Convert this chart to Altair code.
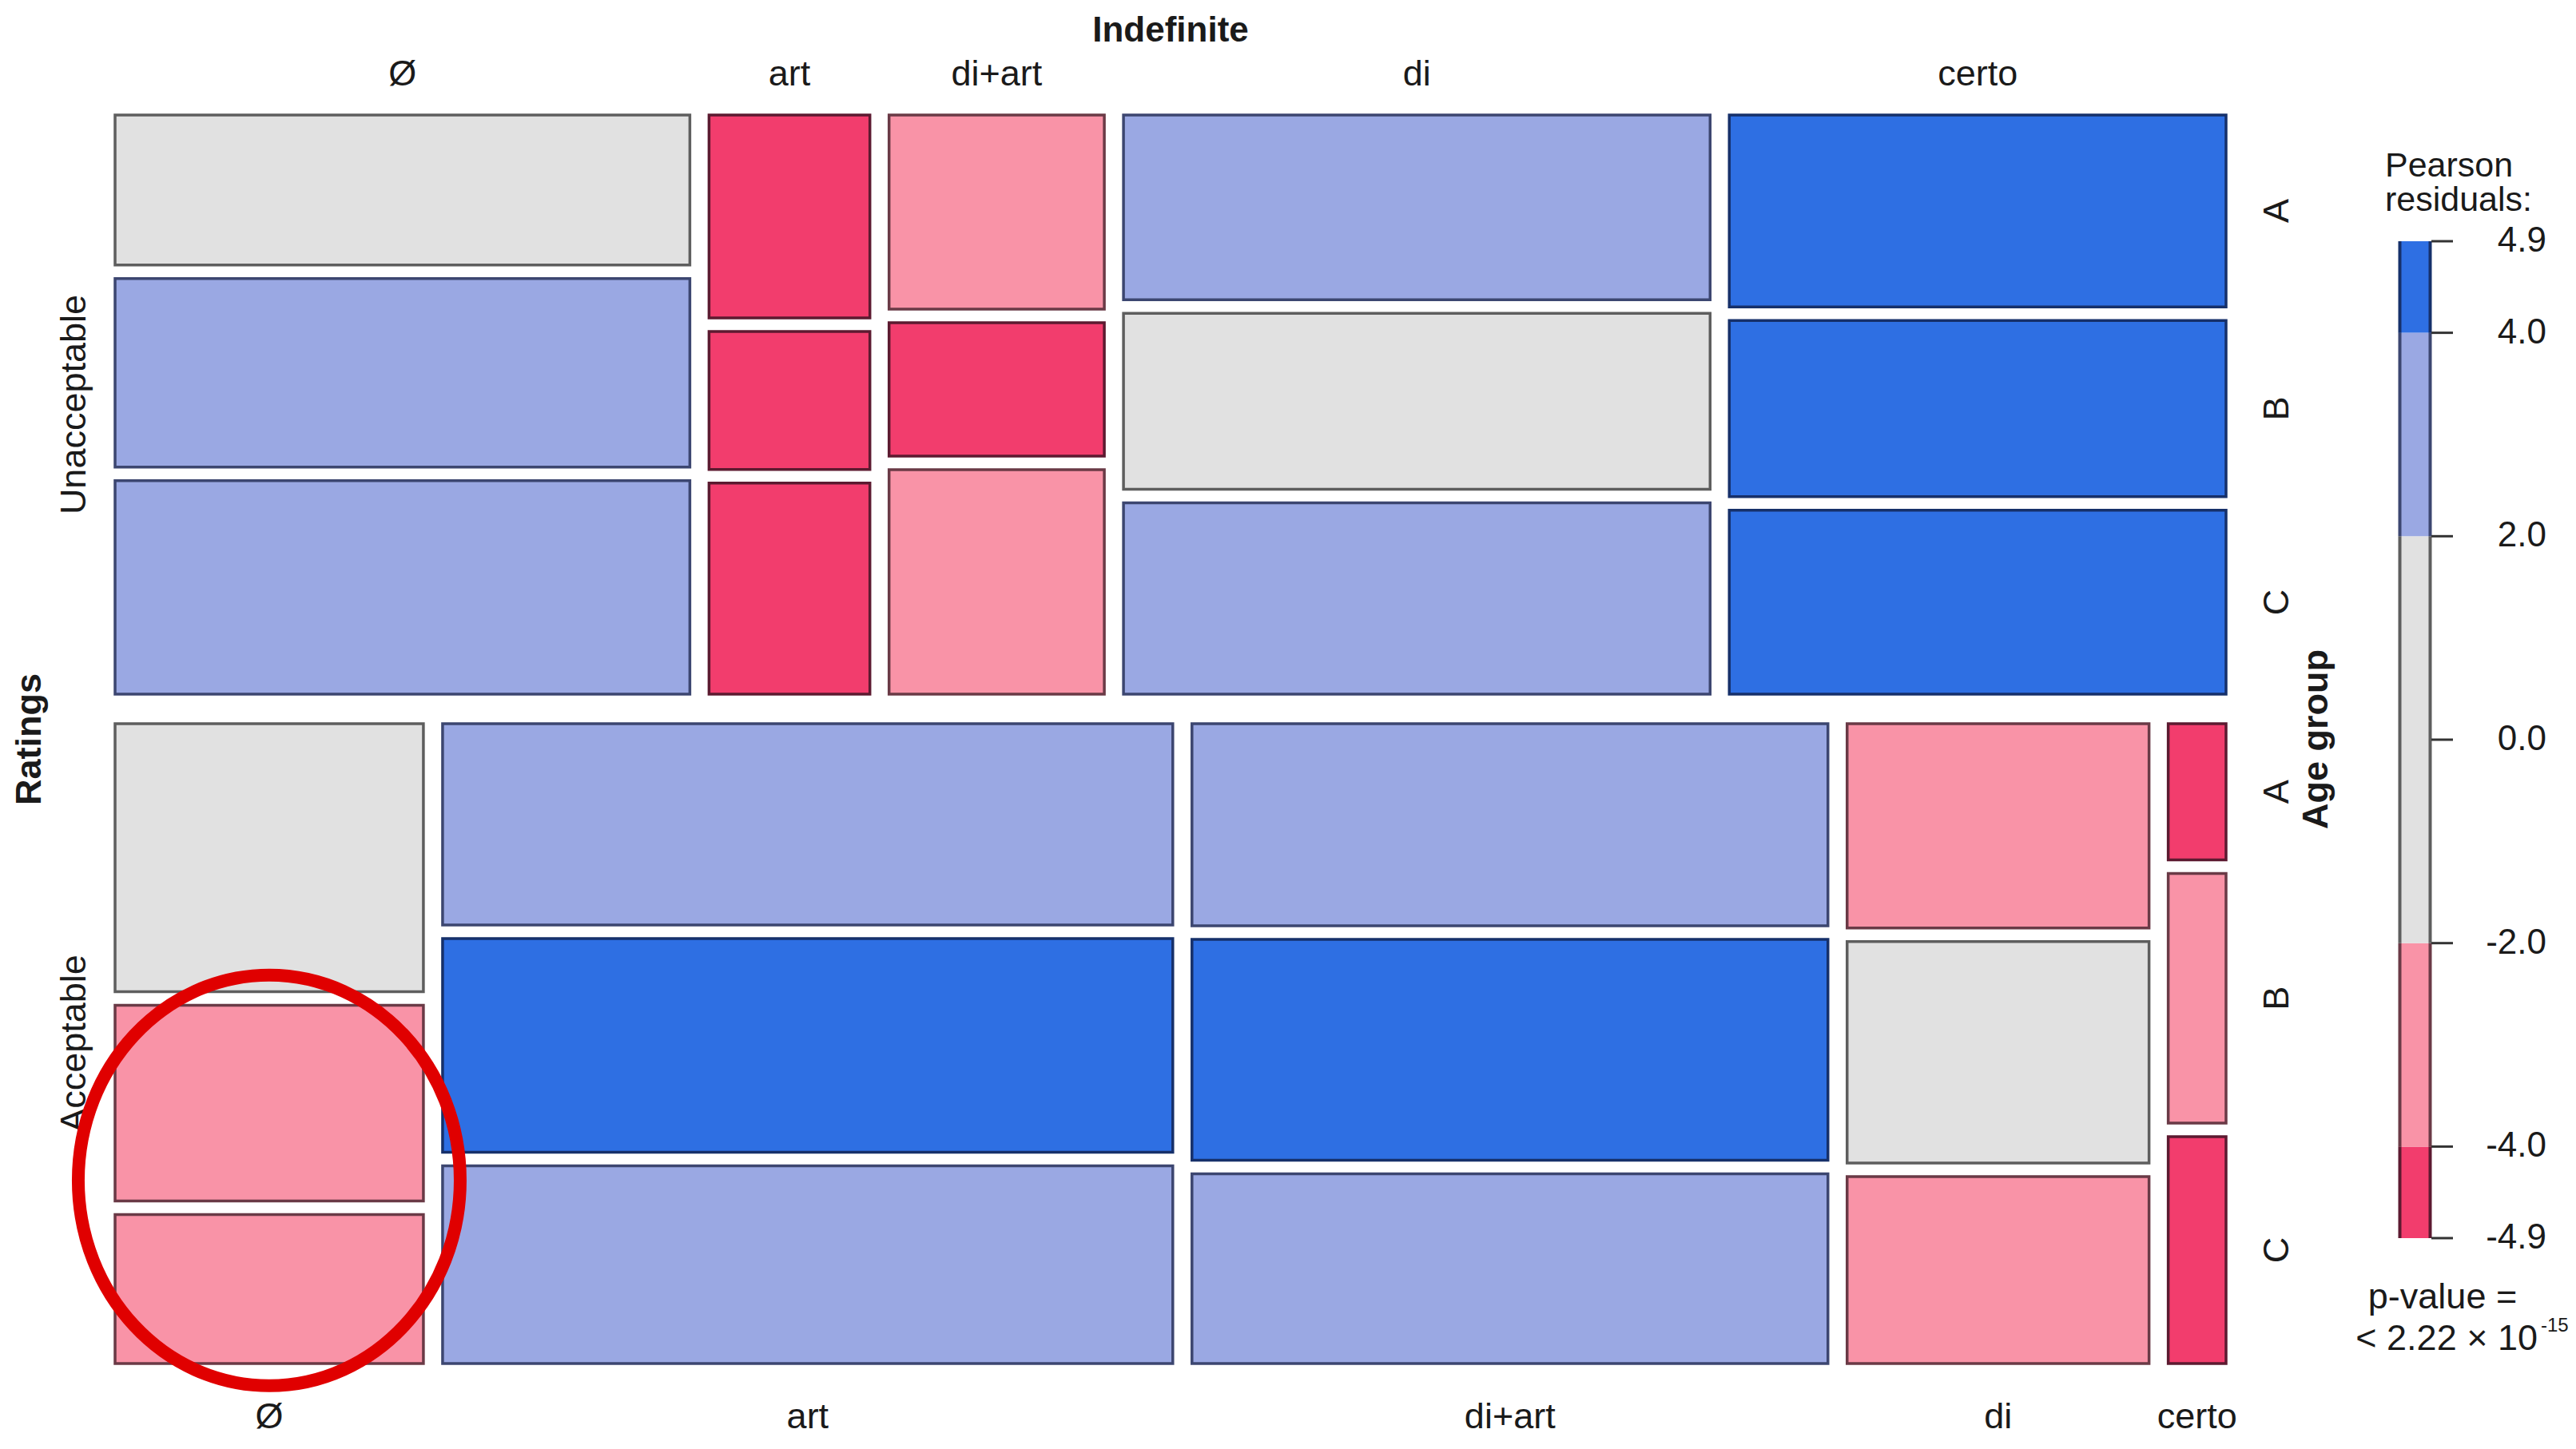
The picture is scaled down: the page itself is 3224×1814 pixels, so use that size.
import altair as alt
import pandas as pd

# ---------------- data ----------------
ratings = ["Unacceptable", "Acceptable"]
indefinites = ["Ø", "art", "di+art", "di", "certo"]
ages = ["A", "B", "C"]

# counts per age group A, B, C
counts_unacceptable = {
    "Ø": [66, 83, 94],
    "art": [25, 17, 26],
    "di+art": [32, 22, 37],
    "di": [83, 79, 86],
    "certo": [73, 67, 70],
}
counts_acceptable = {
    "Ø": [63, 46, 35],
    "art": [112, 119, 110],
    "di+art": [98, 107, 92],
    "di": [47, 51, 43],
    "certo": [6, 11, 10],
}
# Pearson residuals per age group A, B, C (estimated from shading)
resid_unacceptable = {
    "Ø": [1.2, 2.6, 3.1],
    "art": [-4.6, -4.3, -4.7],
    "di+art": [-3.4, -4.4, -3.6],
    "di": [3.0, 1.5, 2.8],
    "certo": [4.8, 4.5, 4.7],
}
resid_acceptable = {
    "Ø": [-1.1, -2.5, -3.0],
    "art": [3.5, 4.4, 3.3],
    "di+art": [3.2, 4.3, 3.0],
    "di": [-2.9, -1.4, -2.7],
    "certo": [-4.9, -3.8, -4.6],
}
legend_ticks = [4.9, 4.0, 2.0, 0.0, -2.0, -4.0, -4.9]
legend_tick_labels = ["4.9", "4.0", "2.0", "0.0", "-2.0", "-4.0", "-4.9"]
legend_bins = [(-4.9, -4.0), (-4.0, -2.0), (-2.0, 2.0), (2.0, 4.0), (4.0, 4.9)]
color_breaks = [-4, -2, 2, 4]
fill_colors = ["#F23D6D", "#F993A7", "#E1E1E1", "#9AA8E3", "#2E6FE3"]
stroke_colors = ["#5C1A30", "#6A3A46", "#5E5E5E", "#3C4670", "#16306A"]

counts = {"Unacceptable": counts_unacceptable, "Acceptable": counts_acceptable}
resids = {"Unacceptable": resid_unacceptable, "Acceptable": resid_acceptable}

# ---------------- layout ----------------
W, H = 3208, 1798
MOS_L, MOS_R, MOS_T, MOS_B = 136, 2778, 136, 1699
GAP_R, GAP_C, GAP_A = 37, 24, 17
FONT = "Liberation Sans, Arial, Helvetica, sans-serif"
TXT = "#1a1a1a"

N = sum(sum(v) for r in ratings for v in counts[r].values())
avail_h = (MOS_B - MOS_T) - GAP_R
rows = []
y = MOS_T
for r in ratings:
    n_r = sum(sum(v) for v in counts[r].values())
    h_r = avail_h * n_r / N
    avail_w = (MOS_R - MOS_L) - GAP_C * (len(indefinites) - 1)
    x = MOS_L
    for c in indefinites:
        n_rc = sum(counts[r][c])
        w = avail_w * n_rc / n_r
        avail_a = h_r - GAP_A * (len(ages) - 1)
        yy = y
        for a, n, res in zip(ages, counts[r][c], resids[r][c]):
            h = avail_a * n / n_rc
            rows.append(dict(rating=r, indef=c, age=a, n=n, resid=res,
                             x=x, x2=x + w, y=yy, y2=yy + h))
            yy += h + GAP_A
        x += w + GAP_C
    y += h_r + GAP_R
df = pd.DataFrame(rows)
df["xc"] = (df.x + df.x2) / 2
df["yc"] = (df.y + df.y2) / 2

xs = alt.Scale(domain=[0, W], nice=False, zero=False)
ys = alt.Scale(domain=[0, H], reverse=True, nice=False, zero=False)
cscale = alt.Scale(type="threshold", domain=color_breaks, range=fill_colors)
sscale = alt.Scale(type="threshold", domain=color_breaks, range=stroke_colors)

X = lambda f: alt.X(f, scale=xs, axis=None)
Y = lambda f: alt.Y(f, scale=ys, axis=None)

tiles = alt.Chart(df).mark_rect(strokeWidth=3.5).encode(
    x=X("x:Q"), x2="x2:Q", y=Y("y:Q"), y2="y2:Q",
    color=alt.Color("resid:Q", scale=cscale, legend=None),
    stroke=alt.Stroke("resid:Q", scale=sscale, legend=None),
)

def text_layer(d, size=45, bold=False, angle=0, align="center"):
    kw = dict(font=FONT, fontSize=size, color=TXT, align=align, baseline="middle")
    if bold:
        kw["fontWeight"] = "bold"
    if angle:
        kw["angle"] = angle
    return alt.Chart(pd.DataFrame(d)).mark_text(**kw).encode(
        x=X("x:Q"), y=Y("y:Q"), text="label:N")

top = df[df.rating == "Unacceptable"].groupby("indef", sort=False).agg(x=("xc", "mean")).reset_index()
top_lab = text_layer({"x": top.x, "y": [MOS_T - 51] * len(top), "label": top.indef})
bot = df[df.rating == "Acceptable"].groupby("indef", sort=False).agg(x=("xc", "mean")).reset_index()
bot_lab = text_layer({"x": bot.x, "y": [MOS_B + 67] * len(bot), "label": bot.indef})

rr = df.groupby("rating", sort=False).agg(y=("y", "min"), y2=("y2", "max")).reset_index()
row_lab = text_layer({"x": [MOS_L - 51] * len(rr), "y": (rr.y + rr.y2) / 2, "label": rr.rating}, angle=270)

ratings_t = text_layer({"x": [29], "y": [(MOS_T + MOS_B) / 2], "label": ["Ratings"]}, bold=True, angle=270)
indef_t = text_layer({"x": [(MOS_L + MOS_R) / 2], "y": [31], "label": ["Indefinite"]}, size=44, bold=True)

last = df[df.indef == indefinites[-1]]
age_lab = text_layer({"x": [MOS_R + 64] * len(last), "y": last.yc, "label": last.age}, angle=270)
agegroup_t = text_layer({"x": [2891], "y": [(MOS_T + MOS_B) / 2], "label": ["Age group"]}, bold=True, angle=270)

pearson_t = text_layer({"x": [2977, 2977], "y": [200, 243], "label": ["Pearson", "residuals:"]}, size=43, align="left")
pval1 = text_layer({"x": [3049], "y": [1616], "label": ["p-value ="]}, size=45)
pval2 = text_layer({"x": [3168], "y": [1668], "label": ["< 2.22 × 10"]}, size=45, align="right")
pval3 = text_layer({"x": [3172], "y": [1652], "label": ["-15"]}, size=24, align="left")

# red highlight ellipse around the Acceptable / Ø / B–C tiles
hl = df[(df.rating == "Acceptable") & (df.indef == "Ø") & (df.age.isin(["B", "C"]))]
ell = pd.DataFrame({"x": [hl.xc.mean()], "y": [(hl.y.min() + hl.y2.max()) / 2 - 5]})
ellipse = alt.Chart(ell).mark_point(
    shape="M -0.93 0 A 0.93 1 0 1 0 0.93 0 A 0.93 1 0 1 0 -0.93 0 Z",
    filled=False, size=(2 * 257) ** 2, strokeWidth=16, color="#E00000", opacity=1,
).encode(x=X("x:Q"), y=Y("y:Q"))

main = alt.layer(tiles, top_lab, bot_lab, row_lab, ratings_t, indef_t, age_lab,
                 agegroup_t, pearson_t, pval1, pval2, pval3, ellipse)

# ---------------- legend (own residual scale) ----------------
LEG_L, LEG_R, LEG_TOP, LEG_BOT = 2994, 3035, 294, 1542
b = (LEG_BOT - LEG_TOP) / (legend_ticks[0] - legend_ticks[-1])
r_top = legend_ticks[0] + LEG_TOP / b
r_bot = legend_ticks[-1] - (H - LEG_BOT) / b
ls = alt.Scale(domain=[r_bot, r_top], nice=False, zero=False)
LY = lambda f: alt.Y(f, scale=ls, axis=None)

seg = pd.DataFrame({"lo": [p[0] for p in legend_bins], "hi": [p[1] for p in legend_bins]})
seg["mid"] = (seg.lo + seg.hi) / 2
seg["x"] = LEG_L
seg["x2"] = LEG_R
leg_rect = alt.Chart(seg).mark_rect().encode(
    x=X("x:Q"), x2="x2:Q", y=LY("lo:Q"), y2="hi:Q",
    color=alt.Color("mid:Q", scale=cscale, legend=None))
edges = pd.concat([seg.assign(ex=LEG_L + 1.5), seg.assign(ex=LEG_R - 1.5)])
leg_edges = alt.Chart(edges).mark_rule(strokeWidth=4).encode(
    x=X("ex:Q"), y=LY("lo:Q"), y2="hi:Q",
    stroke=alt.Stroke("mid:Q", scale=sscale, legend=None))
tk = pd.DataFrame({"v": legend_ticks, "label": legend_tick_labels,
                   "x": LEG_R, "x2": LEG_R + 27, "tx": 3179})
leg_ticks = alt.Chart(tk).mark_rule(strokeWidth=3, color="#333333").encode(
    x=X("x:Q"), x2="x2:Q", y=LY("v:Q"))
leg_labels = alt.Chart(tk).mark_text(font=FONT, fontSize=44, color=TXT, align="right",
                                     baseline="middle").encode(
    x=X("tx:Q"), y=LY("v:Q"), text="label:N")
legend = alt.layer(leg_rect, leg_edges, leg_ticks, leg_labels)

chart = alt.layer(main, legend).resolve_scale(y="independent").properties(
    width=W, height=H, padding=0, autosize="none", background="white"
).configure_view(stroke=None)

chart.save("out.html", embed_options={"renderer": "svg", "actions": False})
